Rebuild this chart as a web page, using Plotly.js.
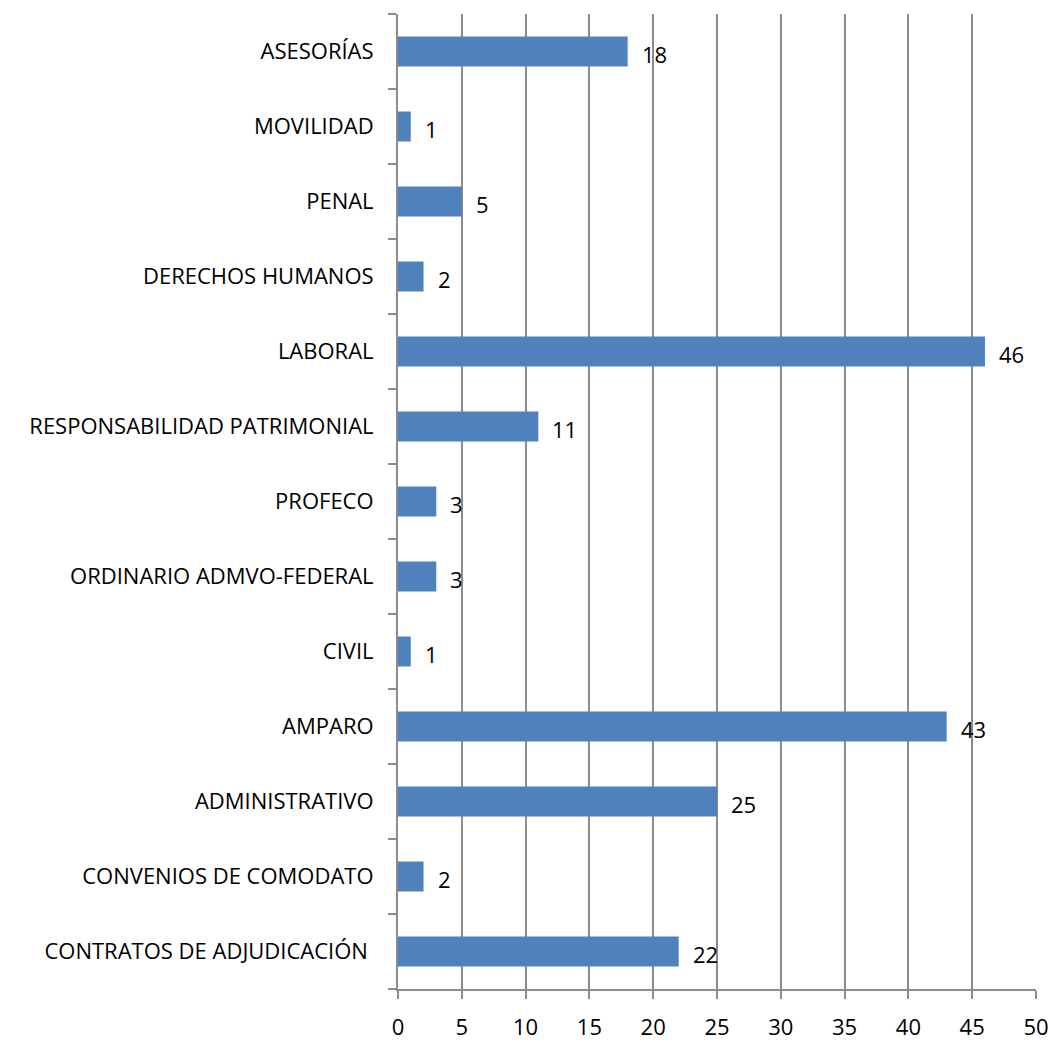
<!DOCTYPE html>
<html>
<head>
<meta charset="utf-8">
<script src="https://cdn.plot.ly/plotly-3.0.1.min.js"></script>
<style>html,body{margin:0;padding:0;background:#fff;}#chart{width:1052px;height:1043px;}</style>
</head>
<body>
<div id="chart"></div>
<script>
const categories = [
  "CONTRATOS DE ADJUDICACIÓN ",
  "CONVENIOS DE COMODATO",
  "ADMINISTRATIVO",
  "AMPARO",
  "CIVIL",
  "ORDINARIO ADMVO-FEDERAL",
  "PROFECO",
  "RESPONSABILIDAD PATRIMONIAL",
  "LABORAL",
  "DERECHOS HUMANOS",
  "PENAL",
  "MOVILIDAD",
  "ASESORÍAS"
];
const values = [22, 2, 25, 43, 1, 3, 3, 11, 46, 2, 5, 1, 18];
const xTicks = [0, 5, 10, 15, 20, 25, 30, 35, 40, 45, 50];

const fontFam = "Open Sans, Liberation Sans, sans-serif";
const fs = 22;
const trace = {
  type: "bar",
  orientation: "h",
  x: values,
  y: categories,
  marker: {color: "#4F81BD"},
  hoverinfo: "x+y"
};
const annotations = values.map((v, i) => ({
  x: v, y: categories[i], xref: "x", yref: "y",
  text: String(v), showarrow: false, xanchor: "left", xshift: 12, yshift: -2,
  font: {family: fontFam, size: fs, color: "#000"}
}));
const layout = {
  width: 1052, height: 1043,
  margin: {l: 398, r: 16, t: 14, b: 54},
  paper_bgcolor: "#fff", plot_bgcolor: "#fff",
  bargap: 0.6,
  showlegend: false,
  font: {family: fontFam, size: fs, color: "#000"},
  xaxis: {
    range: [0, 50], tickvals: xTicks, ticktext: xTicks.map(String),
    showgrid: true, gridcolor: "#8C8C8C", gridwidth: 2,
    showline: true, linecolor: "#8C8C8C", linewidth: 2,
    ticks: "outside", ticklen: 8, tickcolor: "#8C8C8C", tickwidth: 2,
    ticklabelstandoff: 10,
    zeroline: false, fixedrange: true,
    tickfont: {family: fontFam, size: fs, color: "#000"}
  },
  yaxis: {
    type: "category", categoryorder: "array", categoryarray: categories,
    showline: true, linecolor: "#8C8C8C", linewidth: 2,
    ticks: "outside", tickson: "boundaries", ticklen: 8, tickcolor: "#8C8C8C", tickwidth: 2,
    showgrid: false, zeroline: false, fixedrange: true,
    ticklabelstandoff: 18,
    tickfont: {family: fontFam, size: fs, color: "#000"}
  },
  annotations: annotations
};
Plotly.newPlot("chart", [trace], layout, {displayModeBar: false, staticPlot: true});
</script>
</body>
</html>
